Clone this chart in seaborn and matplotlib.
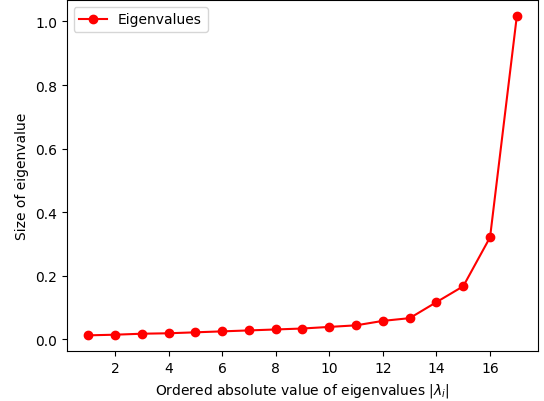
import matplotlib
matplotlib.use("Agg")
import matplotlib.pyplot as plt
import seaborn as sns
import pandas as pd

# Eigenvalue sizes, ordered by absolute value
ranks = list(range(1, 18))
eigenvalues = [0.0125, 0.0145, 0.0176, 0.019, 0.022, 0.025, 0.028, 0.031,
               0.034, 0.039, 0.044, 0.058, 0.0666, 0.117, 0.167, 0.321, 1.0175]

df = pd.DataFrame({"rank": ranks, "eigenvalue": eigenvalues})

fig = plt.figure(figsize=(5.44, 4.02), dpi=100)
ax = fig.add_axes([0.1226, 0.1236, 0.8669, 0.874])

sns.lineplot(data=df, x="rank", y="eigenvalue", ax=ax, color="red",
             marker="o", markersize=6, markeredgecolor="red",
             markeredgewidth=1, linewidth=1.5, label="Eigenvalues")

ax.set_xlabel(r"Ordered absolute value of eigenvalues $|\lambda_i|$")
ax.set_ylabel("Size of eigenvalue")
ax.set_xticks([2, 4, 6, 8, 10, 12, 14, 16])
ax.set_yticks([0.0, 0.2, 0.4, 0.6, 0.8, 1.0])
ax.legend(loc="upper left")

fig.savefig("out.png", dpi=100)
